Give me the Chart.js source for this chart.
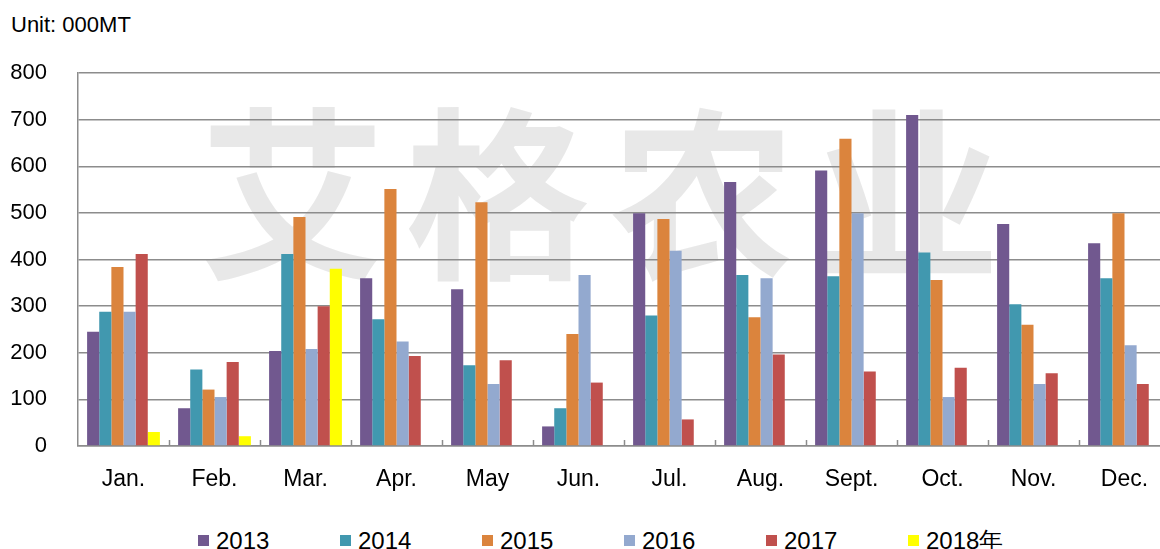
<!DOCTYPE html>
<html>
<head>
<meta charset="utf-8">
<script src="https://cdn.jsdelivr.net/npm/chart.js@4.4.1/dist/chart.umd.min.js"></script>
<style>
  html, body { margin: 0; padding: 0; background: #fff; }
  .wrap { position: relative; width: 1160px; height: 549px; overflow: hidden; font-family: 'Liberation Sans', Arial, sans-serif; }
  .mark { position: absolute; left: 200px; top: 92px; font-family: 'Noto Sans CJK SC', sans-serif; font-weight: 700; font-size: 185px; letter-spacing: 20px; color: rgba(150,150,150,0.22); white-space: nowrap; line-height: 1; }
  .unit { position: absolute; left: 11px; top: 12px; font-size: 22px; color: #000; }
  canvas { position: absolute; left: 0; top: 0; }
  .legend { position: absolute; left: 0; top: 529px; height: 24px; width: 1160px; }
  .item { position: absolute; top: 0; display: flex; align-items: center; height: 24px; font-size: 24px; color: #000; }
  .item .box { width: 11px; height: 11px; margin-right: 7px; position: relative; top: -1px; }
</style>
</head>
<body>
<div class="wrap">
  <div class="mark">艾格农业</div>
  <div class="unit">Unit: 000MT</div>
  <canvas id="chart" width="1172" height="500"></canvas>
  <div class="legend" id="legend"></div>
</div>
<script>
const months = ['Jan.', 'Feb.', 'Mar.', 'Apr.', 'May', 'Jun.', 'Jul.', 'Aug.', 'Sept.', 'Oct.', 'Nov.', 'Dec.']
const seriesNames = ['2013', '2014', '2015', '2016', '2017', '2018年']
const colors = ['#71588F', '#4198AF', '#DB843D', '#93A9CF', '#C0504D', '#FFFF00']

const y2013 = [245, 81, 204, 360, 336, 42, 499, 566, 591, 710, 476, 435]
const y2014 = [288, 164, 412, 272, 173, 81, 280, 367, 364, 415, 304, 360]
const y2015 = [384, 121, 491, 551, 523, 240, 487, 276, 659, 356, 260, 499]
const y2016 = [288, 105, 208, 224, 133, 367, 419, 360, 499, 105, 133, 216]
const y2017 = [412, 180, 300, 193, 184, 136, 57, 196, 160, 168, 156, 133]
const y2018 = [30, 21, 380, null, null, null, null, null, null, null, null, null]

const yTicks = [0, 100, 200, 300, 400, 500, 600, 700, 800]

const allSeries = [y2013, y2014, y2015, y2016, y2017, y2018]
const gridColor = '#8c8c8c'
const fontFamily = "'Liberation Sans', Arial, sans-serif"

// small tick marks pointing up from the x axis between month groups
const innerTicks = {
  id: 'innerTicks',
  afterDraw(chart) {
    const x = chart.scales.x
    const area = chart.chartArea
    const ctx = chart.ctx
    ctx.save()
    ctx.strokeStyle = gridColor
    ctx.lineWidth = 1.5
    for (let i = 0; i < months.length - 1; i++) {
      const px = Math.round((x.getPixelForTick(i) + x.getPixelForTick(i + 1)) / 2) + 0.5
      ctx.beginPath()
      ctx.moveTo(px, area.bottom)
      ctx.lineTo(px, area.bottom - 6)
      ctx.stroke()
    }
    ctx.restore()
  },
}

new Chart(document.getElementById('chart'), {
  type: 'bar',
  data: {
    labels: months,
    datasets: allSeries.map((data, i) => ({
      label: seriesNames[i],
      data: data,
      backgroundColor: colors[i],
      borderWidth: 0,
      barPercentage: 1.0,
      categoryPercentage: 0.8,
    })),
  },
  options: {
    responsive: false,
    animation: false,
    layout: { padding: { left: 10, top: 73, right: 2, bottom: 0 } },
    plugins: {
      legend: { display: false },
      tooltip: { enabled: false },
    },
    scales: {
      x: {
        offset: true,
        grid: { display: false, drawTicks: false },
        border: { display: true, color: gridColor, width: 1.5 },
        ticks: { color: '#000', padding: 20, font: { family: fontFamily, size: 23 } },
        afterFit: (scale) => { scale.height = 54 },
      },
      y: {
        min: 0,
        max: 800,
        afterBuildTicks: (scale) => { scale.ticks = yTicks.map((v) => ({ value: v })) },
        grid: { color: gridColor, lineWidth: 1.5, drawTicks: false },
        border: { display: true, color: gridColor, width: 1.5 },
        ticks: { color: '#000', padding: 31, font: { family: fontFamily, size: 22 } },
        afterFit: (scale) => { scale.width = 68 },
      },
    },
  },
  plugins: [innerTicks],
})

const legend = document.getElementById('legend')
seriesNames.forEach((name, i) => {
  const item = document.createElement('div')
  item.className = 'item'
  item.style.left = (198 + i * 142) + 'px'
  item.innerHTML = '<span class="box" style="background:' + colors[i] + '"></span><span>' + name + '</span>'
  legend.appendChild(item)
})
</script>
</body>
</html>
